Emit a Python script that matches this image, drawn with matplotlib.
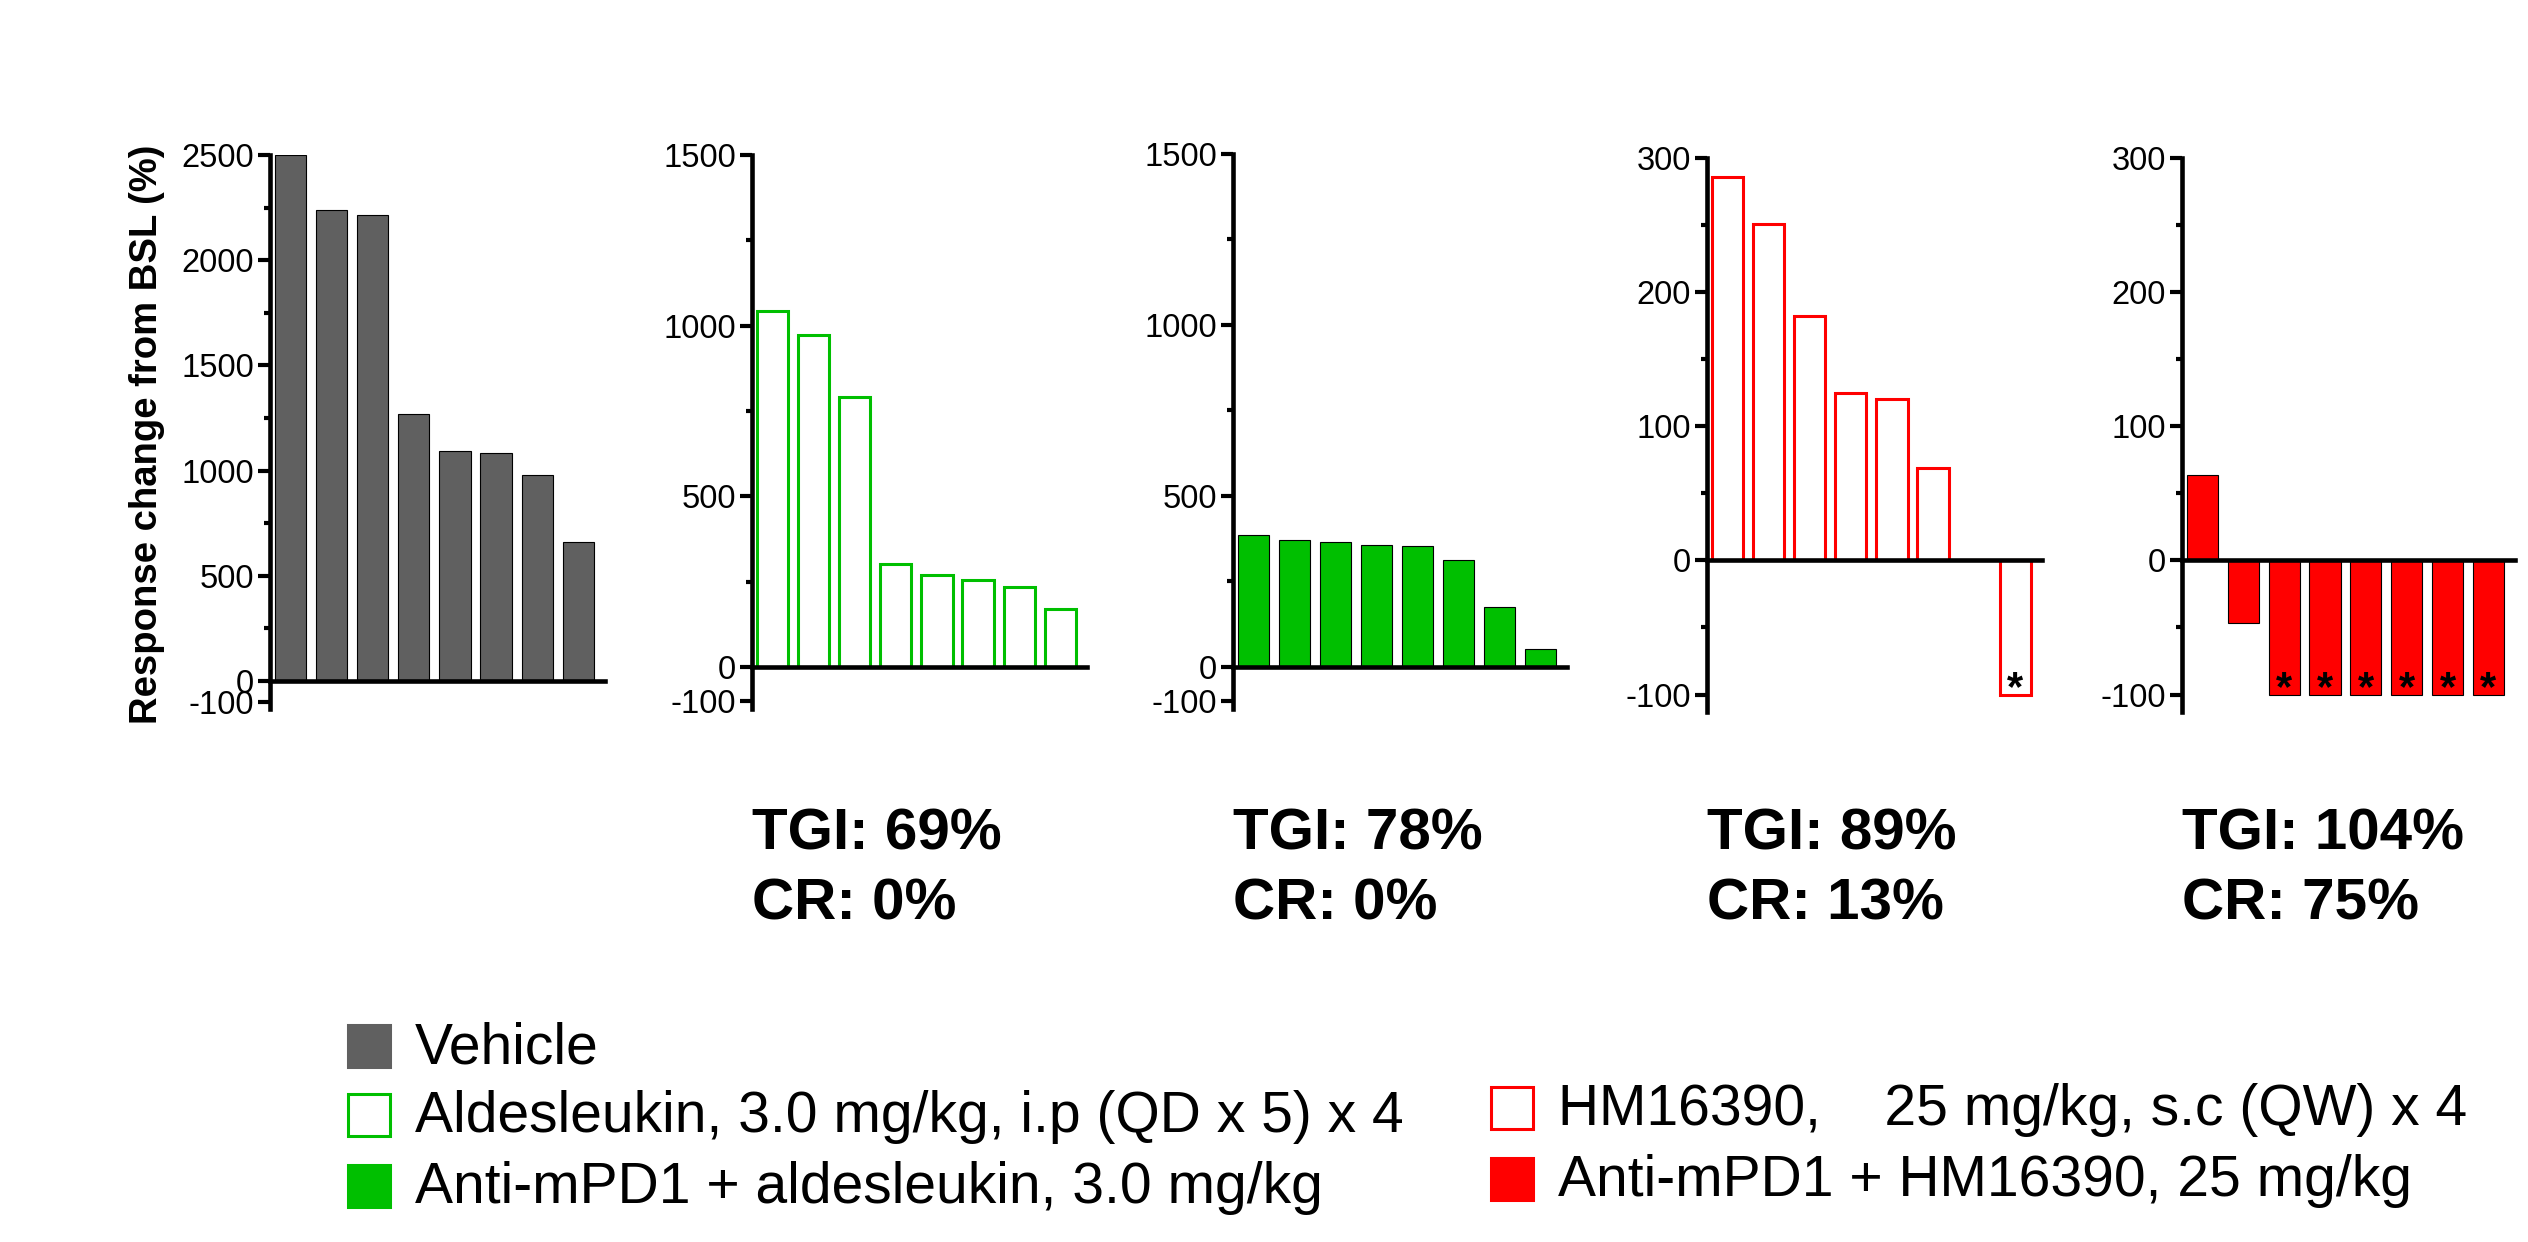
import matplotlib
matplotlib.use("Agg")
import matplotlib.pyplot as plt
from matplotlib.patches import Rectangle
import numpy as np

plt.rcParams['font.family'] = ['Liberation Sans', 'DejaVu Sans']
plt.rcParams['axes.unicode_minus'] = False

# values (% change from baseline)
vehicle = [2500, 2240, 2215, 1270, 1092, 1086, 977, 663]
aldesleukin = [1043, 974, 790, 301, 271, 254, 234, 169]
pd1_aldesleukin = [387, 370, 364, 357, 354, 312, 176, 53]
hm16390 = [286, 251, 182, 125, 120, 69, 0, -100]
pd1_hm16390 = [64, -47, -100, -100, -100, -100, -100, -100]

# complete responders marked with an asterisk
stars_hm16390 = [7]
stars_pd1_hm16390 = [2, 3, 4, 5, 6, 7]

tgi_labels = ["TGI: 69%", "TGI: 78%", "TGI: 89%", "TGI: 104%"]
cr_labels = ["CR: 0%", "CR: 0%", "CR: 13%", "CR: 75%"]

legend_left = ["Vehicle",
               "Aldesleukin, 3.0 mg/kg, i.p (QD x 5) x 4",
               "Anti-mPD1 + aldesleukin, 3.0 mg/kg"]
legend_right = ["HM16390,    25 mg/kg, s.c (QW) x 4",
                "Anti-mPD1 + HM16390, 25 mg/kg"]

GRAY = '#606060'
GREEN = '#00bf00'
RED = '#ff0000'

W, H = 2528, 1242
fig = plt.figure(figsize=(W / 100, H / 100), dpi=100)


def px_axes(x0, x1, ytop, ybot):
    return fig.add_axes([x0 / W, 1 - ybot / H, (x1 - x0) / W, (ybot - ytop) / H])


panels = [
    # values, face, edge, lw, y range, major, minor, stars, px box
    (vehicle, GRAY, 'black', 0.8, (-133, 2500), [-100, 0, 500, 1000, 1500, 2000, 2500],
     [250, 750, 1250, 1750, 2250], [], (270, 605, 155, 709)),
    (aldesleukin, 'white', GREEN, 2.2, (-123, 1500), [-100, 0, 500, 1000, 1500],
     [250, 750, 1250], [], (752, 1087, 155, 709)),
    (pd1_aldesleukin, GREEN, 'black', 0.8, (-123, 1500), [-100, 0, 500, 1000, 1500],
     [250, 750, 1250], [], (1233, 1567, 154, 709)),
    (hm16390, 'white', RED, 2.2, (-113, 300), [-100, 0, 100, 200, 300],
     [-50, 50, 150, 250], stars_hm16390, (1707, 2042, 158, 712)),
    (pd1_hm16390, RED, 'black', 0.8, (-113, 300), [-100, 0, 100, 200, 300],
     [-50, 50, 150, 250], stars_pd1_hm16390, (2182, 2515, 158, 712)),
]

axes = []
for vals, face, edge, lw, yr, major, minor, stars, box in panels:
    ax = px_axes(*box)
    x = np.arange(len(vals))
    ax.bar(x, vals, width=0.76, color=face, edgecolor=edge, linewidth=lw, zorder=1)
    for i in stars:
        ax.annotate('*', xy=(x[i], vals[i]), xytext=(0, -4), textcoords='offset points',
                    ha='center', va='baseline', fontsize=30, fontweight='bold')
    ax.set_xlim(-0.5, 7.65)
    ax.set_ylim(*yr)
    ax.set_yticks(major)
    ax.set_yticks(minor, minor=True)
    ax.set_xticks([])
    for s in ['top', 'right']:
        ax.spines[s].set_visible(False)
    ax.spines['bottom'].set_position(('data', 0))
    for s in ['left', 'bottom']:
        ax.spines[s].set_linewidth(3.3)
        ax.spines[s].set_capstyle('projecting')
    ax.tick_params(axis='y', which='major', length=8.5, width=3, labelsize=23.5, pad=3)
    ax.tick_params(axis='y', which='minor', length=4.5, width=3)
    ax.patch.set_alpha(0)
    axes.append(ax)

fig.text(147 / W, 1 - 434 / H, "Response change from BSL (%)", rotation=90,
         ha='center', va='center', fontsize=27.5, fontweight='bold')

# TGI / CR summaries under the treated panels
for ax, tgi, cr in zip(axes[1:], tgi_labels, cr_labels):
    x0 = ax.get_position().x0
    fig.text(x0, 1 - 850 / H, tgi, fontsize=42, fontweight='bold', va='baseline')
    fig.text(x0, 1 - 920 / H, cr, fontsize=42, fontweight='bold', va='baseline')

# legend drawn by hand
left_styles = [(GRAY, GRAY), ('white', GREEN), (GREEN, GREEN)]
right_styles = [('white', RED), (RED, RED)]
left_rows = [1046, 1115, 1186]
right_rows = [1108, 1179]


def legend_entry(xsq, yc, face, edge, label):
    sq = 45
    fig.patches.append(Rectangle(((xsq + 1.5) / W, 1 - (yc + sq / 2 - 1.5) / H), (sq - 3) / W, (sq - 3) / H,
                                 transform=fig.transFigure, facecolor=face,
                                 edgecolor=edge, linewidth=2.2))
    fig.text((xsq + 69) / W, 1 - (yc + 17) / H, label, fontsize=41, va='baseline')


for (face, edge), label, yc in zip(left_styles, legend_left, left_rows):
    legend_entry(346, yc, face, edge, label)
for (face, edge), label, yc in zip(right_styles, legend_right, right_rows):
    legend_entry(1489, yc, face, edge, label)

fig.savefig('out.png', dpi=100, facecolor='white')
